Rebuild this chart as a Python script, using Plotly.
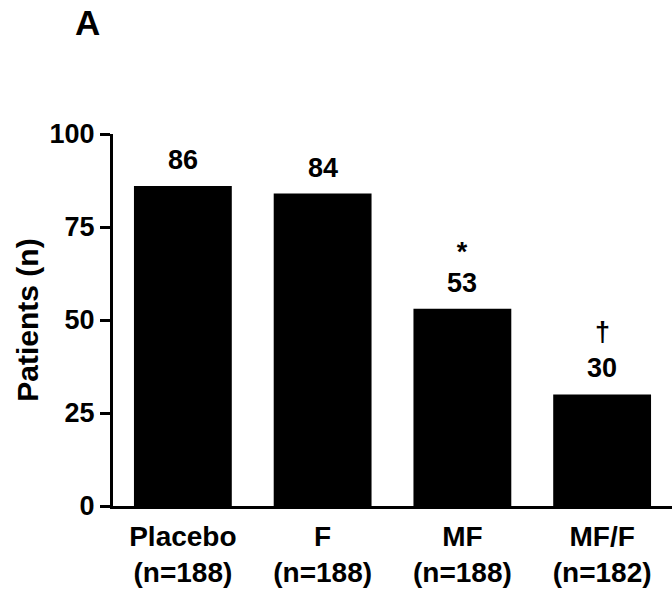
import plotly.graph_objects as go

categories = ["Placebo<br>(n=188)", "F<br>(n=188)", "MF<br>(n=188)", "MF/F<br>(n=182)"]
values = [86, 84, 53, 30]
stars = ["", "", "*", ""]
daggers = ["", "", "", "†"]
y_ticks = [0, 25, 50, 75, 100]

FONT = "Liberation Sans, Arial, sans-serif"

fig = go.Figure()
fig.add_trace(go.Bar(
    x=categories, y=values,
    marker=dict(color="black", line=dict(color="black", width=0)),
    width=0.7,
))

for c, v, s, d in zip(categories, values, stars, daggers):
    num = f"<span style='font-size:27px'><b>{v}</b></span>"
    txt = (f"<span style='font-size:27px'><b>{s}</b></span><br>" + num) if s else num
    fig.add_annotation(x=c, y=v, text=txt, showarrow=False,
                       yanchor="bottom", yshift=9,
                       font=dict(family=FONT, size=24, color="black"))
    if d:
        fig.add_annotation(x=c, y=v, text=f"<b>{d}</b>", showarrow=False,
                           yanchor="middle", yshift=62,
                           font=dict(family=FONT, size=27, color="black"))

fig.add_annotation(x=-0.046, y=1.30, xref="paper", yref="paper",
                   xanchor="center", yanchor="middle",
                   text="<b>A</b>", showarrow=False,
                   font=dict(family=FONT, size=35, color="black"))

fig.update_layout(
    width=672, height=593,
    margin=dict(l=113, r=0, t=134, b=87, autoexpand=False),
    plot_bgcolor="white", paper_bgcolor="white",
    showlegend=False,
    font=dict(family=FONT, color="black"),
)
fig.update_xaxes(
    showline=True, linecolor="black", linewidth=3,
    ticks="", showgrid=False,
    tickfont=dict(family=FONT, size=28, color="black"),
    ticklabelstandoff=3,
    range=[-0.5, 3.5],
    tickvals=categories, ticktext=[f"<b>{c}</b>" for c in categories],
)
fig.update_yaxes(
    range=[0, 100], tickvals=y_ticks,
    ticktext=[f"<b>{t}</b>" for t in y_ticks],
    showline=True, linecolor="black", linewidth=3,
    ticks="outside", ticklen=10, tickwidth=3, tickcolor="black",
    showgrid=False, zeroline=False,
    tickfont=dict(family=FONT, size=27, color="black"),
    title=dict(text="<b>Patients (n)</b>", font=dict(family=FONT, size=30, color="black"), standoff=3),
)

fig.write_html("out.html", config={"displayModeBar": False},
               post_script="document.body.style.margin='0';")
